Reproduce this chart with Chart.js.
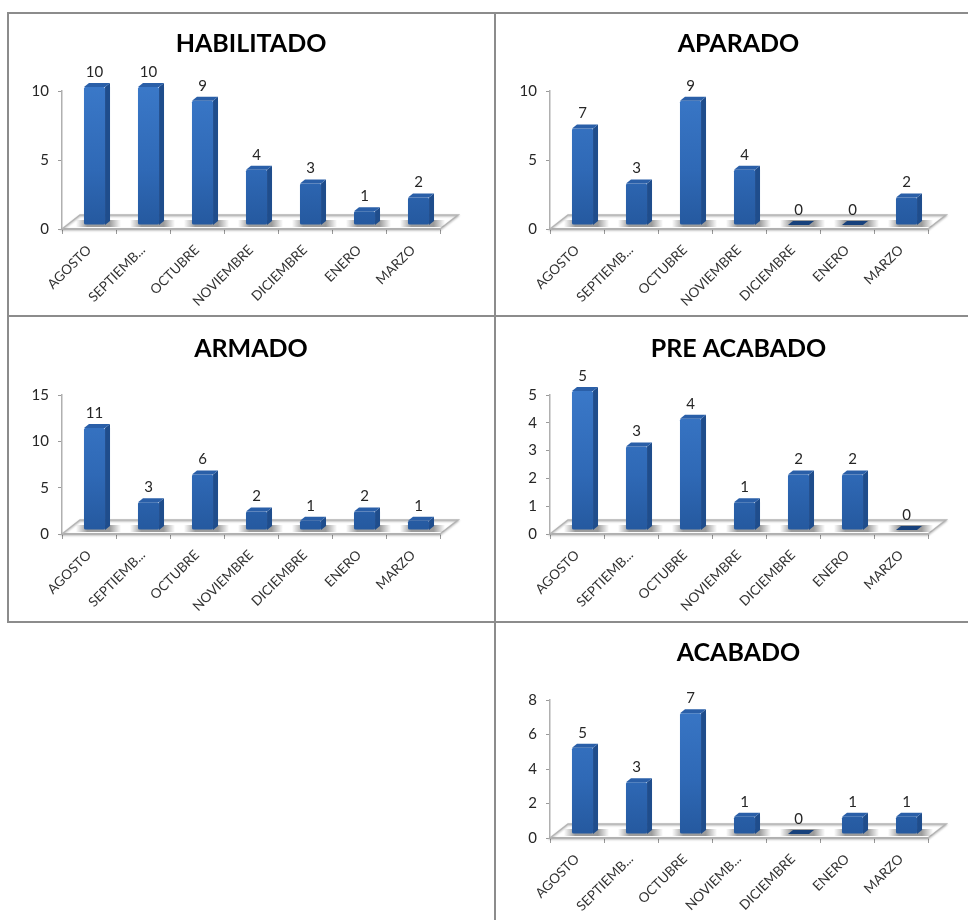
<!DOCTYPE html>
<html lang="es">

<head>
    <meta charset="UTF-8">
    <title>Etapas por mes</title>
    <script src="https://cdn.jsdelivr.net/npm/chart.js"></script>
    <style>
        html, body {
            margin: 0;
            padding: 0;
            background: #ffffff;
            width: 968px;
            height: 920px;
            overflow: hidden;
        }

        .panel {
            position: absolute;
        }

        .rule {
            position: absolute;
            background: #8c8c8c;
        }
    </style>
</head>

<body>
    <div class="rule" style="left:7px;top:12px;width:961px;height:2px"></div>
    <div class="rule" style="left:7px;top:315px;width:961px;height:2px"></div>
    <div class="rule" style="left:7px;top:621px;width:961px;height:2px"></div>
    <div class="rule" style="left:7px;top:12px;width:2px;height:611px"></div>
    <div class="rule" style="left:494px;top:12px;width:2px;height:908px"></div>

    <script>
        // Datos
        const titles = ['HABILITADO', 'APARADO', 'ARMADO', 'PRE ACABADO', 'ACABADO'];
        const months = ['AGOSTO', 'SEPTIEMB...', 'OCTUBRE', 'NOVIEMBRE', 'DICIEMBRE', 'ENERO', 'MARZO'];
        const monthsShort = ['AGOSTO', 'SEPTIEMB...', 'OCTUBRE', 'NOVIEMB...', 'DICIEMBRE', 'ENERO', 'MARZO'];
        const habilitado = [10, 10, 9, 4, 3, 1, 2];
        const aparado = [7, 3, 9, 4, 0, 0, 2];
        const armado = [11, 3, 6, 2, 1, 2, 1];
        const preAcabado = [5, 3, 4, 1, 2, 2, 0];
        const acabado = [5, 3, 7, 1, 0, 1, 1];
        const axisMax = [10, 10, 15, 5, 8];
        const axisStep = [5, 5, 5, 1, 2];

        // Posicion de cada panel: x, y, ancho, alto, margen sup. del area, alto eje x, margen titulo
        const layouts = [
            [7, 13, 488, 303, 78, 87, 16],
            [495, 13, 487, 303, 78, 87, 16],
            [7, 316, 488, 306, 79, 88, 18],
            [495, 316, 487, 306, 79, 88, 18],
            [495, 622, 487, 298, 78, 82, 16]
        ];

        const DEPTH_X = 18, DEPTH_Y = 14;   // piso
        const SHIFT_X = 5.5, SHIFT_Y = -4;  // barra dentro del piso
        const SIDE_X = 5, SIDE_Y = 4;       // cara lateral de la barra

        // Piso, caras laterales y sombras, antes de las barras
        const floorPlugin = {
            id: 'floor',
            beforeDatasetsDraw(chart) {
                const { ctx, chartArea: a } = chart;
                const meta = chart.getDatasetMeta(0);
                ctx.save();
                ctx.strokeStyle = '#b4b4b4';
                ctx.lineWidth = 1.5;
                ctx.shadowColor = 'rgba(0,0,0,0.3)';
                ctx.shadowBlur = 2;
                ctx.shadowOffsetY = 1;
                ctx.beginPath();
                ctx.moveTo(a.left, a.bottom);
                ctx.lineTo(a.left + DEPTH_X, a.bottom - DEPTH_Y);
                ctx.lineTo(a.right + DEPTH_X, a.bottom - DEPTH_Y);
                ctx.lineTo(a.right, a.bottom);
                ctx.closePath();
                ctx.stroke();
                ctx.restore();

                // sombra de cada barra en el piso
                meta.data.forEach(bar => {
                    const half = bar.width / 2;
                    const x = bar.x + SHIFT_X, y = a.bottom + SHIFT_Y;
                    const g = ctx.createLinearGradient(x - half - 8, 0, x + half + 16, 0);
                    g.addColorStop(0, 'rgba(90,90,90,0)');
                    g.addColorStop(0.25, 'rgba(90,90,90,0.6)');
                    g.addColorStop(0.75, 'rgba(90,90,90,0.6)');
                    g.addColorStop(1, 'rgba(90,90,90,0)');
                    ctx.fillStyle = g;
                    ctx.fillRect(x - half - 8, y - 5, bar.width + 24, 7);
                });
            },
            afterDatasetsDraw(chart) {
                const { ctx, chartArea: a } = chart;
                const meta = chart.getDatasetMeta(0);
                const values = chart.data.datasets[0].data;
                meta.data.forEach((bar, i) => {
                    const half = bar.width / 2;
                    const x0 = bar.x - half + SHIFT_X, x1 = bar.x + half + SHIFT_X;
                    const yTop = bar.y + SHIFT_Y, yBase = a.bottom + SHIFT_Y;

                    // cara lateral
                    ctx.fillStyle = '#1f4d8c';
                    ctx.beginPath();
                    ctx.moveTo(x1, yTop);
                    ctx.lineTo(x1 + SIDE_X, yTop - SIDE_Y);
                    ctx.lineTo(x1 + SIDE_X, yBase - SIDE_Y);
                    ctx.lineTo(x1, yBase);
                    ctx.closePath();
                    ctx.fill();

                    // cara superior
                    ctx.fillStyle = values[i] === 0 ? '#17417c' : '#2a5fa8';
                    ctx.beginPath();
                    ctx.moveTo(x0, yTop);
                    ctx.lineTo(x0 + SIDE_X, yTop - SIDE_Y);
                    ctx.lineTo(x1 + SIDE_X, yTop - SIDE_Y);
                    ctx.lineTo(x1, yTop);
                    ctx.closePath();
                    ctx.fill();

                    // etiqueta
                    ctx.fillStyle = '#262626';
                    ctx.font = '15px Lato';
                    ctx.textAlign = 'center';
                    ctx.textBaseline = 'middle';
                    ctx.fillText(String(values[i]), bar.x + SHIFT_X, yTop - 15);
                });
            }
        };

        // Las barras se dibujan en el plano desplazado del piso
        const shiftPlugin = {
            id: 'shift',
            beforeDatasetDraw(chart) {
                chart.ctx.save();
                chart.ctx.translate(SHIFT_X, SHIFT_Y);
            },
            afterDatasetDraw(chart) {
                chart.ctx.restore();
            }
        };

        function barFill(context) {
            const chart = context.chart;
            const a = chart.chartArea;
            if (!a) return '#2f6bb8';
            const g = chart.ctx.createLinearGradient(0, a.top, 0, a.bottom);
            g.addColorStop(0, '#3a78c8');
            g.addColorStop(0.6, '#2f69b6');
            g.addColorStop(1, '#25599f');
            return g;
        }

        function drawChart(index, labels, values) {
            const [left, top, width, height, areaTop, axisHeight, titleTop] = layouts[index];
            const canvas = document.createElement('canvas');
            canvas.className = 'panel';
            canvas.style.left = left + 'px';
            canvas.style.top = top + 'px';
            canvas.width = width;
            canvas.height = height;
            document.body.appendChild(canvas);

            const titleSize = 25;
            new Chart(canvas, {
                type: 'bar',
                data: {
                    labels: labels,
                    datasets: [{
                        data: values,
                        backgroundColor: barFill,
                        borderRadius: 1.5,
                        borderSkipped: false,
                        categoryPercentage: 1,
                        barPercentage: 0.39
                    }]
                },
                plugins: [floorPlugin, shiftPlugin],
                options: {
                    responsive: false,
                    animation: false,
                    layout: { padding: 0 },
                    plugins: {
                        legend: { display: false },
                        tooltip: { enabled: false },
                        title: {
                            display: true,
                            text: titles[index],
                            color: '#000000',
                            font: { family: 'Lato', size: titleSize, weight: 'bold', lineHeight: 1.2 },
                            padding: { top: titleTop, bottom: areaTop - titleTop - titleSize * 1.2 }
                        }
                    },
                    scales: {
                        x: {
                            afterFit(scale) { scale.height = axisHeight; },
                            border: { color: '#b0b0b0', width: 1.5 },
                            grid: { drawOnChartArea: false, color: '#9a9a9a', tickLength: 5, offset: true },
                            ticks: {
                                autoSkip: false,
                                minRotation: 45,
                                maxRotation: 45,
                                color: '#333333',
                                padding: 8,
                                font: { family: 'Lato', size: 13.5 }
                            }
                        },
                        y: {
                            min: 0,
                            max: axisMax[index],
                            afterFit(scale) { scale.width = 55; },
                            border: { color: '#b0b0b0', width: 1.5 },
                            grid: { drawOnChartArea: false, color: '#9a9a9a', tickLength: 4 },
                            ticks: {
                                stepSize: axisStep[index],
                                color: '#262626',
                                padding: 9,
                                font: { family: 'Lato', size: 15 }
                            }
                        },
                        // eje vacio: reserva el margen derecho y deja el titulo centrado en el panel
                        margin: {
                            axis: 'y',
                            position: 'right',
                            afterFit(scale) { scale.width = width - 55 - 378; },
                            border: { display: false },
                            grid: { display: false },
                            ticks: { display: false }
                        }
                    }
                }
            });
        }

        drawChart(0, months, habilitado);
        drawChart(1, months, aparado);
        drawChart(2, months, armado);
        drawChart(3, months, preAcabado);
        drawChart(4, monthsShort, acabado);
    </script>
</body>

</html>
